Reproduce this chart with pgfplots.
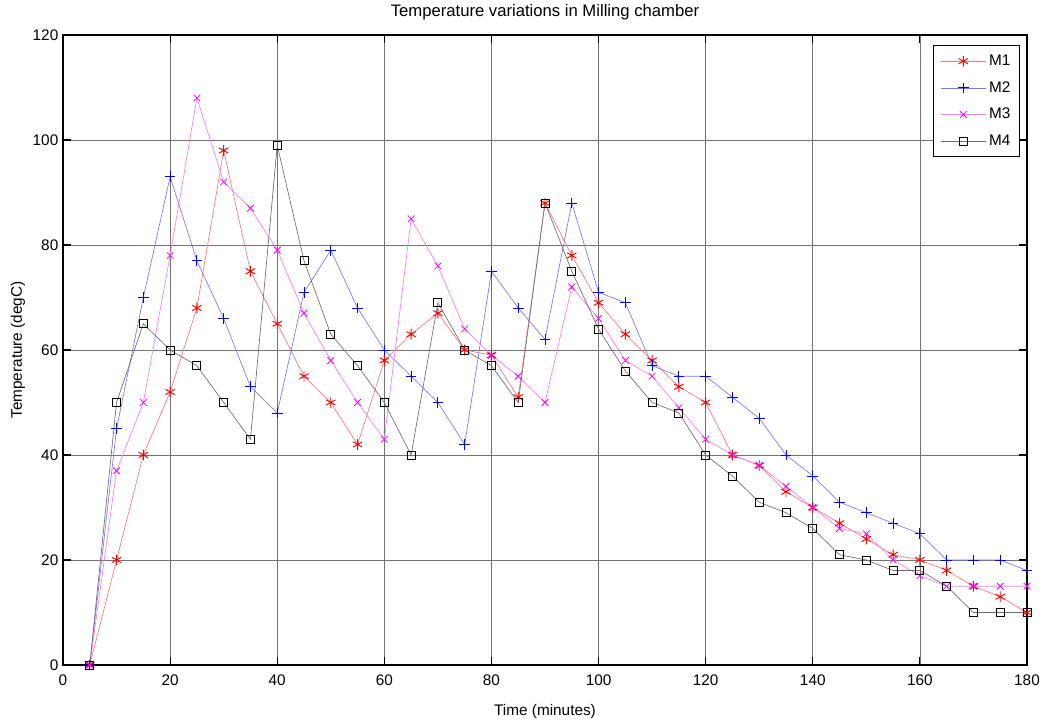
\documentclass[border=0pt]{standalone}
\usepackage{fontspec}
\setmainfont{Liberation Sans}
\usepackage{pgfplots}
\pgfplotsset{compat=1.18}
\definecolor{mred}{RGB}{255,0,0}
\definecolor{lred}{RGB}{255,120,120}
\definecolor{mblue}{RGB}{0,0,255}
\definecolor{lblue}{RGB}{120,120,255}
\definecolor{mmag}{RGB}{255,0,255}
\definecolor{lmag}{RGB}{255,120,255}
\definecolor{lgray}{RGB}{110,110,110}

\begin{document}
\begin{tikzpicture}
\begin{axis}[
  width=723pt, height=472.5pt, scale only axis,
  xmin=0, xmax=180, ymin=0, ymax=120,
  xtick={0,20,...,180}, ytick={0,20,...,120},
  grid=major, grid style={black!55, line width=0.5pt},
  axis line style={black, line width=0.8pt},
  tick align=inside, major tick length=6pt,
  tick style={black, line width=0.8pt},
  /pgf/number format/assume math mode=true,
  tick label style={font=\fontsize{11.5}{13}\selectfont},
  xticklabel style={yshift=-4pt},
  xlabel={Time (minutes)}, ylabel={Temperature (degC)},
  label style={font=\fontsize{11.5}{13}\selectfont},
  xlabel style={at={(axis description cs:0.5,-0.0746)}, anchor=center},
  ylabel style={at={(axis description cs:-0.0467,0.5)}, anchor=center},
  title={Temperature variations in Milling chamber},
  title style={font=\fontsize{12.5}{14}\selectfont, at={(axis description cs:0.5,1.0235)}, anchor=center},
  legend style={at={(0.993,0.984)}, anchor=north east, draw=black, line width=0.8pt,
    font=\fontsize{11.5}{14}\selectfont, row sep=6.5pt, inner sep=5pt},
  legend cell align=left,
  legend image code/.code={\draw[mark repeat=2,mark phase=2,#1] plot coordinates {(0cm,0cm) (0.6cm,0cm) (1.2cm,0cm)};},
  every axis plot/.append style={line width=0.5pt},
]
\coordinate (sw) at (rel axis cs:0,0);
\coordinate (ne) at (rel axis cs:1,1);
\addplot[lred, mark=asterisk, mark size=4pt, mark options={draw=mred, line width=0.7pt}] coordinates {
 (5,0) (10,20) (15,40) (20,52) (25,68) (30,98) (35,75) (40,65) (45,55) (50,50) (55,42) (60,58)
 (65,63) (70,67) (75,60) (80,59) (85,51) (90,88) (95,78) (100,69) (105,63) (110,58) (115,53) (120,50)
 (125,40) (130,38) (135,33) (140,30) (145,27) (150,24) (155,21) (160,20) (165,18) (170,15) (175,13) (180,10)};
\addlegendentry{M1}
\addplot[lblue, mark=+, mark size=4pt, mark options={draw=mblue, line width=0.6pt}] coordinates {
 (5,0) (10,45) (15,70) (20,93) (25,77) (30,66) (35,53) (40,48) (45,71) (50,79) (55,68) (60,60)
 (65,55) (70,50) (75,42) (80,75) (85,68) (90,62) (95,88) (100,71) (105,69) (110,57) (115,55) (120,55)
 (125,51) (130,47) (135,40) (140,36) (145,31) (150,29) (155,27) (160,25) (165,20) (170,20) (175,20) (180,18)};
\addlegendentry{M2}
\addplot[lmag, mark=x, mark size=3.5pt, mark options={draw=mmag, line width=0.6pt}] coordinates {
 (5,0) (10,37) (15,50) (20,78) (25,108) (30,92) (35,87) (40,79) (45,67) (50,58) (55,50) (60,43)
 (65,85) (70,76) (75,64) (80,59) (85,55) (90,50) (95,72) (100,66) (105,58) (110,55) (115,49) (120,43)
 (125,40) (130,38) (135,34) (140,30) (145,26) (150,25) (155,20) (160,17) (165,15) (170,15) (175,15) (180,15)};
\addlegendentry{M3}
\addplot[lgray, mark=square, mark size=3pt, mark options={draw=black, line width=0.6pt}] coordinates {
 (5,0) (10,50) (15,65) (20,60) (25,57) (30,50) (35,43) (40,99) (45,77) (50,63) (55,57) (60,50)
 (65,40) (70,69) (75,60) (80,57) (85,50) (90,88) (95,75) (100,64) (105,56) (110,50) (115,48) (120,40)
 (125,36) (130,31) (135,29) (140,26) (145,21) (150,20) (155,18) (160,18) (165,15) (170,10) (175,10) (180,10)};
\addlegendentry{M4}
\end{axis}
\pgfresetboundingbox
\path[use as bounding box] ([xshift=-47.25pt,yshift=-43.5pt]sw) rectangle ([xshift=11.25pt,yshift=26.25pt]ne);
\end{tikzpicture}
\end{document}
